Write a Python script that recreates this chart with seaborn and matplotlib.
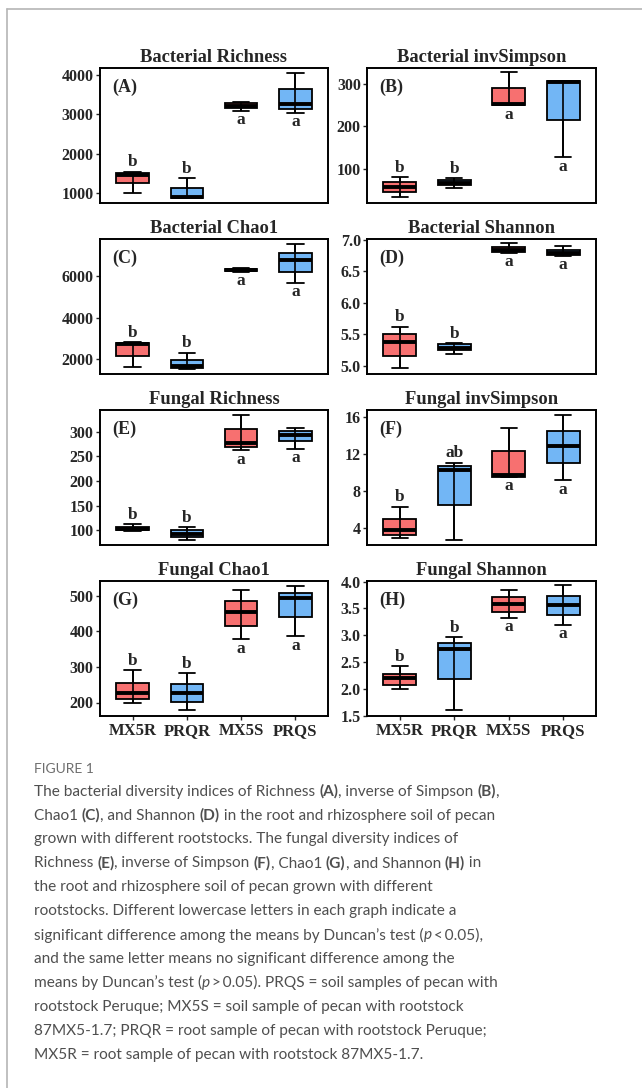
import re
import numpy as np
import pandas as pd
import seaborn as sns
import matplotlib
matplotlib.use("Agg")
import matplotlib.pyplot as plt
from matplotlib.lines import Line2D

# ---------------- data ----------------
groups = ["MX5R", "PRQR", "MX5S", "PRQS"]
titles = ["Bacterial Richness", "Bacterial invSimpson", "Bacterial Chao1", "Bacterial Shannon",
          "Fungal Richness", "Fungal invSimpson", "Fungal Chao1", "Fungal Shannon"]
panel_tags = ["(A)", "(B)", "(C)", "(D)", "(E)", "(F)", "(G)", "(H)"]

# five-number summaries per group: min, Q1, median, Q3, max
bact_richness = [[1017, 1254, 1473, 1524, 1550], [870, 880, 900, 1145, 1390],
                 [3096, 3155, 3215, 3282, 3325], [3046, 3130, 3257, 3637, 4043]]
bact_invsimpson = [[32, 43, 56, 67, 80], [54, 60, 66, 73, 77],
                   [250, 251, 253, 291, 329], [127, 216, 305, 307, 309]]
bact_chao1 = [[1632, 2160, 2736, 2800, 2832], [1552, 1570, 1700, 1968, 2320],
              [6208, 6240, 6288, 6352, 6368], [5664, 6176, 6768, 7104, 7520]]
bact_shannon = [[4.96, 5.16, 5.37, 5.50, 5.62], [5.19, 5.25, 5.29, 5.34, 5.36],
                [6.79, 6.80, 6.84, 6.88, 6.94], [6.74, 6.75, 6.79, 6.83, 6.90]]
fung_richness = [[99, 100, 103, 107.5, 112], [80, 86, 93, 100, 106],
                 [262, 269, 277, 305, 333], [265, 281, 293, 302, 307]]
fung_invsimpson = [[2.91, 3.31, 3.78, 4.98, 6.33], [2.73, 6.55, 10.25, 10.69, 11.02],
                   [9.53, 9.55, 9.67, 12.25, 14.8], [9.16, 10.98, 12.8, 14.44, 16.18]]
fung_chao1 = [[199, 211, 227, 256, 291], [178, 202, 227, 253, 283],
              [378, 416, 455, 485, 516], [386, 441, 494, 509, 527]]
fung_shannon = [[2.01, 2.08, 2.21, 2.29, 2.43], [1.61, 2.18, 2.75, 2.86, 2.96],
                [3.33, 3.44, 3.59, 3.71, 3.84], [3.20, 3.38, 3.56, 3.74, 3.93]]

letters = [["b", "b", "a", "a"], ["b", "b", "a", "a"], ["b", "b", "a", "a"], ["b", "b", "a", "a"],
           ["b", "b", "a", "a"], ["b", "ab", "a", "a"], ["b", "b", "a", "a"], ["b", "b", "a", "a"]]

yticks = [[1000, 2000, 3000, 4000], [100, 200, 300], [2000, 4000, 6000],
          [5.0, 5.5, 6.0, 6.5, 7.0], [100, 150, 200, 250, 300], [4, 8, 12, 16],
          [200, 300, 400, 500], [1.5, 2.0, 2.5, 3.0, 3.5, 4.0]]
ytick_fmt = ["{:.0f}", "{:.0f}", "{:.0f}", "{:.1f}", "{:.0f}", "{:.0f}", "{:.0f}", "{:.1f}"]
ylims = [(754, 4178), (18, 339), (1300, 7780), (4.87, 7.01),
         (70, 344), (2.2, 16.7), (162, 542), (1.5, 4.01)]

panels = [bact_richness, bact_invsimpson, bact_chao1, bact_shannon,
          fung_richness, fung_invsimpson, fung_chao1, fung_shannon]

caption_lines = [
    "The bacterial diversity indices of Richness **(A)**, inverse of Simpson **(B)**,",
    "Chao1 **(C)**, and Shannon **(D)** in the root and rhizosphere soil of pecan",
    "grown with different rootstocks. The fungal diversity indices of",
    "Richness **(E)**, inverse of Simpson **(F)**, Chao1 **(G)**, and Shannon **(H)** in",
    "the root and rhizosphere soil of pecan grown with different",
    "rootstocks. Different lowercase letters in each graph indicate a",
    "significant difference among the means by Duncan\u2019s test (*p*\u2009<\u20090.05),",
    "and the same letter means no significant difference among the",
    "means by Duncan\u2019s test (*p*\u2009>\u20090.05). PRQS = soil samples of pecan with",
    "rootstock Peruque; MX5S = soil sample of pecan with rootstock",
    "87MX5-1.7; PRQR = root sample of pecan with rootstock Peruque;",
    "MX5R = root sample of pecan with rootstock 87MX5-1.7.",
]

# ---------------- style ----------------
sns.set_style("white")
plt.rcParams["font.family"] = ["Liberation Serif", "DejaVu Serif"]
RED = "#F77070"
BLUE = "#72B6F5"
palette = {"MX5R": RED, "PRQR": BLUE, "MX5S": RED, "PRQS": BLUE}

W, H = 642, 1088
fig = plt.figure(figsize=(W / 100, H / 100), dpi=100)

lefts = [100, 367]
rights = [328, 596]
tops = [68, 239, 410, 581]
bots = [203, 374, 545, 716]

FS = 11.5
for k, summ in enumerate(panels):
    row, col = divmod(k, 2)
    x0, x1 = lefts[col], rights[col]
    y0, y1 = tops[row], bots[row]
    ax = fig.add_axes([x0 / W, 1 - y1 / H, (x1 - x0) / W, (y1 - y0) / H])
    df = pd.DataFrame({
        "group": np.repeat(groups, 5),
        "value": np.concatenate([np.asarray(s, float) for s in summ]),
    })
    sns.boxplot(data=df, x="group", y="value", hue="group", order=groups, hue_order=groups,
                palette=palette, saturation=1, width=0.6, whis=(0, 100), showfliers=False,
                linecolor="black", linewidth=1.3,
                medianprops=dict(linewidth=2.8, color="black"),
                legend=False, ax=ax)
    mins = [s[0] for s in summ]
    maxs = [s[4] for s in summ]
    ax.vlines(range(len(groups)), mins, maxs, color="black", linewidth=1.2, zorder=2.05)
    for i, lab in enumerate(letters[k]):
        if "b" in lab:
            ax.annotate(lab, (i, maxs[i]), xytext=(0, 1), textcoords="offset points",
                        ha="center", va="bottom", fontsize=12.5, fontweight="bold")
        else:
            ax.annotate(lab, (i, mins[i]), xytext=(0, -1), textcoords="offset points",
                        ha="center", va="top", fontsize=12.5, fontweight="bold")
    ax.set_ylim(*ylims[k])
    ax.set_xlim(-0.6, 3.6)
    ax.set_yticks(yticks[k])
    ax.set_yticklabels([ytick_fmt[k].format(v) for v in yticks[k]], fontsize=FS, fontweight="bold")
    ax.set_xlabel("")
    ax.set_ylabel("")
    ax.set_title(titles[k], fontsize=13.3, fontweight="bold", pad=4)
    ax.text(0.052, 0.86, panel_tags[k], transform=ax.transAxes, ha="left", va="center",
            fontsize=13, fontweight="bold")
    for sp in ax.spines.values():
        sp.set_linewidth(1.4)
        sp.set_color("black")
    ax.tick_params(axis="y", length=3, width=1, pad=1.5, left=True)
    if row == 3:
        ax.set_xticks(range(len(groups)))
        ax.set_xticklabels(groups, fontsize=FS + 0.5, fontweight="bold")
        ax.tick_params(axis="x", length=3, width=1, pad=2, bottom=True)
    else:
        ax.set_xticks([])

# ---------------- frame ----------------
fig.add_artist(Line2D([7 / W, 1], [1 - 9 / H, 1 - 9 / H], transform=fig.transFigure,
                      color="#b5b5b5", linewidth=1.2))
fig.add_artist(Line2D([7 / W, 7 / W], [0, 1 - 9 / H], transform=fig.transFigure,
                      color="#b5b5b5", linewidth=1.2))

# ---------------- caption ----------------
CAP_FAMILY = ["Lato", "DejaVu Sans"]
CAP_COLOR = "#4f4f4f"
fig.text(34 / W, 1 - 769 / H, "FIGURE 1", family=CAP_FAMILY, fontsize=10, color="#6e6e6e",
         ha="left", va="center")

fig.canvas.draw()
renderer = fig.canvas.get_renderer()


def seg_width(s, **kw):
    t = fig.text(0, 0, s + "|", **kw)
    w1 = t.get_window_extent(renderer).width
    t.remove()
    t = fig.text(0, 0, "|", **kw)
    w2 = t.get_window_extent(renderer).width
    t.remove()
    return w1 - w2


def parse(line):
    parts = re.split(r"(\*\*.+?\*\*|\*.+?\*)", line)
    out = []
    for p in parts:
        if not p:
            continue
        if p.startswith("**"):
            out.append((p[2:-2], "bold", "normal"))
        elif p.startswith("*"):
            out.append((p[1:-1], "normal", "italic"))
        else:
            out.append((p, "normal", "normal"))
    return out


# scale caption font so the first line spans its width in the reference
target_w = 466
base = 10.0
w_base = sum(seg_width(s, family=CAP_FAMILY, fontsize=base, fontweight=wt, fontstyle=st)
             for s, wt, st in parse(caption_lines[0]))
cap_fs = base * target_w / w_base

y_first, dy = 791.7, 23.9
for li, line in enumerate(caption_lines):
    x = 34.0
    y = y_first + li * dy
    for s, wt, st in parse(line):
        kw = dict(family=CAP_FAMILY, fontsize=cap_fs, fontweight=wt, fontstyle=st, color=CAP_COLOR)
        fig.text(x / W, 1 - y / H, s, ha="left", va="center", **kw)
        x += seg_width(s, **kw)

fig.savefig("out.png", dpi=100)
